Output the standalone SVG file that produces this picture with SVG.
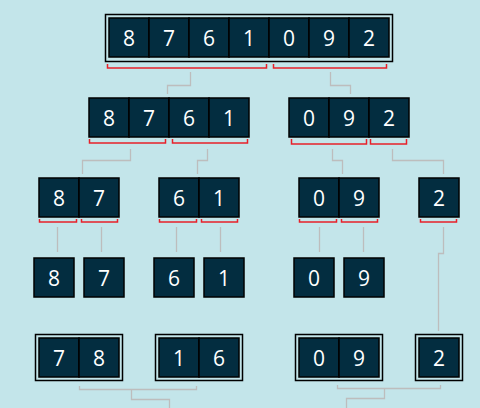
<svg xmlns="http://www.w3.org/2000/svg" width="480" height="408" viewBox="0 0 480 408">
<style>
.bg{fill:#c3e5ea}
.cell{fill:#032d40;stroke:#000;stroke-width:1.5}
.frame{fill:none;stroke:#000;stroke-width:1.5}
.t{fill:#ffffff;font-family:"Open Sans","Noto Sans",sans-serif;font-size:21px;text-anchor:middle;dominant-baseline:central}
.br{fill:none;stroke:#e8202a;stroke-width:1.5}
.gl{fill:none;stroke:#bdbdbd;stroke-width:1.3}
</style>
<rect class="bg" x="0" y="0" width="480" height="408"/>
<g id="connectors">
<path class="gl" d="M190.5 72V85.5H167.5V94"/>
<path class="gl" d="M330.5 72V85.5H350.5V94"/>
<path class="gl" d="M130.5 149V160.5H82.5V174"/>
<path class="gl" d="M207.5 149V160.5H197.5V174"/>
<path class="gl" d="M332.5 149V160.5H342.5V174"/>
<path class="gl" d="M392.5 149V160.5H443.5V174"/>
<path class="gl" d="M57.5 227V252"/>
<path class="gl" d="M101.5 227V252"/>
<path class="gl" d="M176.5 227V252"/>
<path class="gl" d="M220.5 227V252"/>
<path class="gl" d="M319.5 227V252"/>
<path class="gl" d="M363.5 227V252"/>
<path class="gl" d="M443.5 227V253.5H438.5V331"/>
<path class="gl" d="M79.5 386V389.5H196.5V386M131.5 389.5V399.5H169.5V408"/>
<path class="gl" d="M337.5 385V388.5H440.5V385M384.5 388.5V398.5H346.5V408"/>
</g>
<g id="brackets">
<path class="br" d="M107.5 64V68H266.5V64"/>
<path class="br" d="M273.5 64V68H386.5V64"/>
<path class="br" d="M89.5 139V143H165.5V139"/>
<path class="br" d="M172.5 139V143H247.5V139"/>
<path class="br" d="M291.5 139V144H366.5V139"/>
<path class="br" d="M370.5 139V144H406.5V139"/>
<path class="br" d="M39.5 219V222H76.5V219"/>
<path class="br" d="M81.5 219V222H117.5V219"/>
<path class="br" d="M159.5 219V222H196.5V219"/>
<path class="br" d="M201.5 219V222H237.5V219"/>
<path class="br" d="M299.5 219V222H336.5V219"/>
<path class="br" d="M341.5 219V222H377.5V219"/>
<path class="br" d="M420.5 219V222H456.5V219"/>
</g>
<g id="n-root">
<rect class="frame" x="105.5" y="14.5" width="287" height="47"/>
<rect class="cell" x="109" y="18" width="40" height="39"/><text class="t" x="129" y="37.5">8</text>
<rect class="cell" x="149" y="18" width="40" height="39"/><text class="t" x="169" y="37.5">7</text>
<rect class="cell" x="189" y="18" width="40" height="39"/><text class="t" x="209" y="37.5">6</text>
<rect class="cell" x="229" y="18" width="40" height="39"/><text class="t" x="249" y="37.5">1</text>
<rect class="cell" x="269" y="18" width="40" height="39"/><text class="t" x="289" y="37.5">0</text>
<rect class="cell" x="309" y="18" width="40" height="39"/><text class="t" x="329" y="37.5">9</text>
<rect class="cell" x="349" y="18" width="40" height="39"/><text class="t" x="369" y="37.5">2</text>
</g>
<g id="n-8761">
<rect class="cell" x="89" y="98" width="40" height="39"/><text class="t" x="109" y="117.5">8</text>
<rect class="cell" x="129" y="98" width="40" height="39"/><text class="t" x="149" y="117.5">7</text>
<rect class="cell" x="169" y="98" width="40" height="39"/><text class="t" x="189" y="117.5">6</text>
<rect class="cell" x="209" y="98" width="40" height="39"/><text class="t" x="229" y="117.5">1</text>
</g>
<g id="n-092">
<rect class="cell" x="289" y="98" width="40" height="39"/><text class="t" x="309" y="117.5">0</text>
<rect class="cell" x="329" y="98" width="40" height="39"/><text class="t" x="349" y="117.5">9</text>
<rect class="cell" x="369" y="98" width="40" height="39"/><text class="t" x="389" y="117.5">2</text>
</g>
<g id="n-87">
<rect class="cell" x="39" y="178" width="40" height="39"/><text class="t" x="59" y="197.5">8</text>
<rect class="cell" x="79" y="178" width="40" height="39"/><text class="t" x="99" y="197.5">7</text>
</g>
<g id="n-61">
<rect class="cell" x="159" y="178" width="40" height="39"/><text class="t" x="179" y="197.5">6</text>
<rect class="cell" x="199" y="178" width="40" height="39"/><text class="t" x="219" y="197.5">1</text>
</g>
<g id="n-09">
<rect class="cell" x="299" y="178" width="40" height="39"/><text class="t" x="319" y="197.5">0</text>
<rect class="cell" x="339" y="178" width="40" height="39"/><text class="t" x="359" y="197.5">9</text>
</g>
<g id="n-2">
<rect class="cell" x="419" y="178" width="40" height="39"/><text class="t" x="439" y="197.5">2</text>
</g>
<g id="n-8"><rect class="cell" x="34" y="258" width="40" height="39"/><text class="t" x="54" y="277.5">8</text></g>
<g id="n-7"><rect class="cell" x="84" y="258" width="40" height="39"/><text class="t" x="104" y="277.5">7</text></g>
<g id="n-6"><rect class="cell" x="154" y="258" width="40" height="39"/><text class="t" x="174" y="277.5">6</text></g>
<g id="n-1"><rect class="cell" x="204" y="258" width="40" height="39"/><text class="t" x="224" y="277.5">1</text></g>
<g id="n-0"><rect class="cell" x="294" y="258" width="40" height="39"/><text class="t" x="314" y="277.5">0</text></g>
<g id="n-9"><rect class="cell" x="344" y="258" width="40" height="39"/><text class="t" x="364" y="277.5">9</text></g>
<g id="m-78">
<rect class="frame" x="35.5" y="334.5" width="87" height="46"/>
<rect class="cell" x="39" y="338" width="40" height="39"/><text class="t" x="59" y="357.5">7</text>
<rect class="cell" x="79" y="338" width="40" height="39"/><text class="t" x="99" y="357.5">8</text>
</g>
<g id="m-16">
<rect class="frame" x="155.5" y="334.5" width="87" height="46"/>
<rect class="cell" x="159" y="338" width="40" height="39"/><text class="t" x="179" y="357.5">1</text>
<rect class="cell" x="199" y="338" width="40" height="39"/><text class="t" x="219" y="357.5">6</text>
</g>
<g id="m-09">
<rect class="frame" x="295.5" y="334.5" width="87" height="46"/>
<rect class="cell" x="299" y="338" width="40" height="39"/><text class="t" x="319" y="357.5">0</text>
<rect class="cell" x="339" y="338" width="40" height="39"/><text class="t" x="359" y="357.5">9</text>
</g>
<g id="m-2">
<rect class="frame" x="415.5" y="334.5" width="47" height="46"/>
<rect class="cell" x="419" y="338" width="40" height="39"/><text class="t" x="439" y="357.5">2</text>
</g>
</svg>
